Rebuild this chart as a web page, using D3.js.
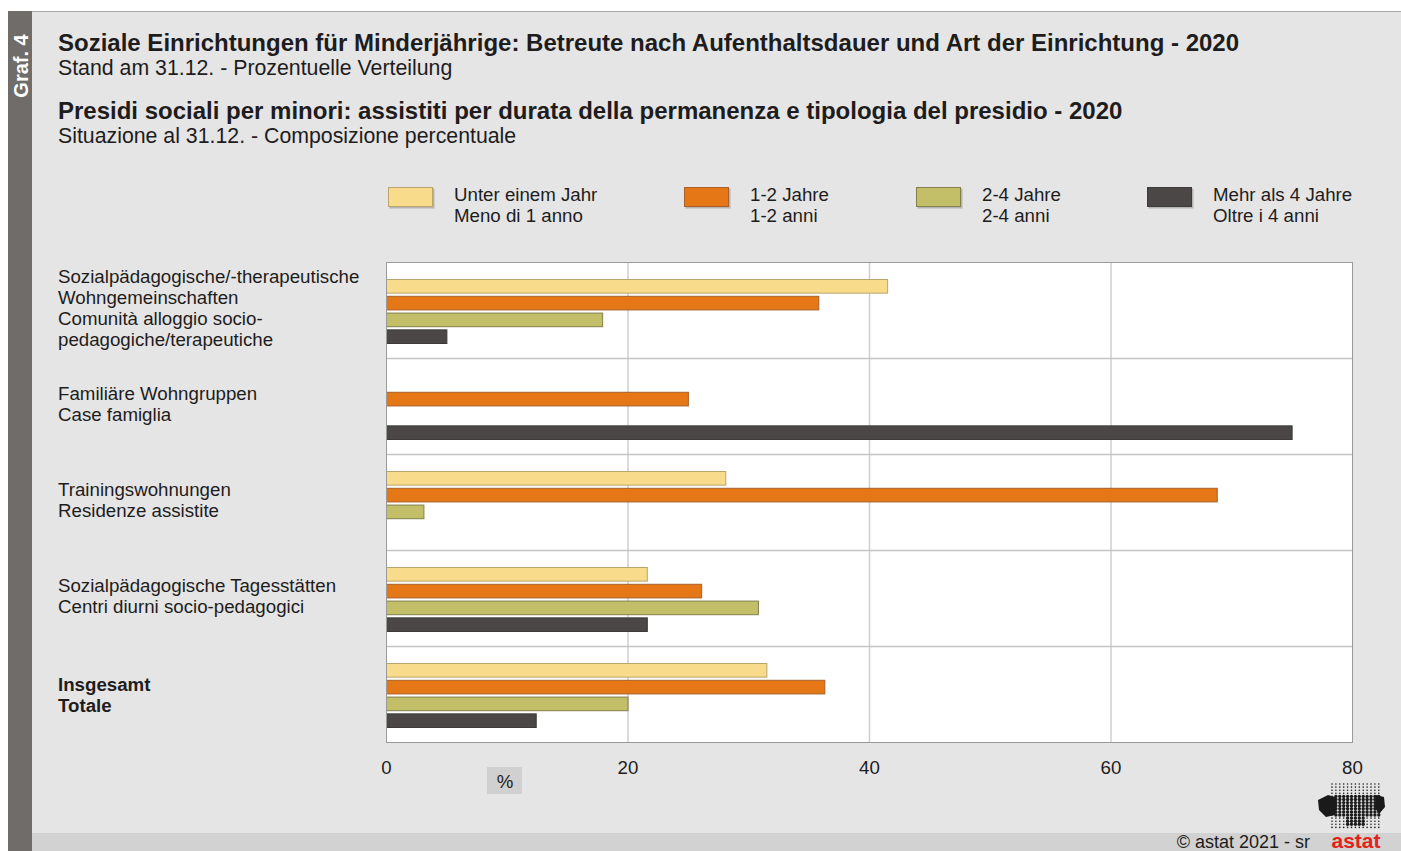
<!DOCTYPE html>
<html>
<head>
<meta charset="utf-8">
<script src="https://cdn.jsdelivr.net/npm/d3@7"></script>
<style>
  body { margin: 0; background: #fff; }
  svg { display: block; font-family: "Liberation Sans", Arial, sans-serif; }
</style>
</head>
<body>
<div id="chart"></div>
<script>
// categories, two lines each (DE / IT)
var categories = [
  ["Sozialpädagogische/-therapeutische", "Wohngemeinschaften", "Comunità alloggio socio-", "pedagogiche/terapeutiche"],
  ["Familiäre Wohngruppen", "Case famiglia"],
  ["Trainingswohnungen", "Residenze assistite"],
  ["Sozialpädagogische Tagesstätten", "Centri diurni socio-pedagogici"],
  ["Insgesamt", "Totale"]
];
var seriesNames = [
  ["Unter einem Jahr", "Meno di 1 anno"],
  ["1-2 Jahre", "1-2 anni"],
  ["2-4 Jahre", "2-4 anni"],
  ["Mehr als 4 Jahre", "Oltre i 4 anni"]
];
// percent values per series (null = no bar)
var underOneYear = [41.5, null, 28.1, 21.6, 31.5];
var oneToTwo     = [35.8, 25.0, 68.8, 26.1, 36.3];
var twoToFour    = [17.9, null, 3.1, 30.8, 20.0];
var overFour     = [5.0, 75.0, null, 21.6, 12.4];
var tickValues = [0, 20, 40, 60, 80];

var seriesValues = [underOneYear, oneToTwo, twoToFour, overFour];
var fills   = ["#f9dc8b", "#e57716", "#c3bf69", "#4b4747"];
var strokes = ["#b9a56c", "#a9602a", "#837f4c", "#3c3a3a"];

var W = 1401, H = 851;
var labelSize = 18.7;
var svg = d3.select("#chart").append("svg")
  .attr("width", W)
  .attr("height", H)

// background frame
svg.append("rect").attr("x", 0).attr("y", 0).attr("width", W).attr("height", H).attr("fill", "#fff")
svg.append("rect").attr("x", 8).attr("y", 11).attr("width", W - 8).attr("height", H - 11).attr("fill", "#e5e5e5")
svg.append("line").attr("x1", 8).attr("x2", W).attr("y1", 11.5).attr("y2", 11.5).attr("stroke", "#a8a8a8")
svg.append("rect").attr("x", 32).attr("y", 833).attr("width", W - 32).attr("height", H - 833).attr("fill", "#d2d2d2")
svg.append("rect").attr("x", 8).attr("y", 11).attr("width", 24).attr("height", H - 11).attr("fill", "#6f6c69")

svg.append("text")
  .attr("transform", "translate(28,66) rotate(-90)")
  .attr("text-anchor", "middle")
  .attr("fill", "#fff")
  .attr("font-weight", "bold")
  .attr("font-size", 20)
  .text("Graf. 4")

// titles
var titles = [
  {t: "Soziale Einrichtungen für Minderjährige: Betreute nach Aufenthaltsdauer und Art der Einrichtung - 2020", y: 51, b: true},
  {t: "Stand am 31.12. - Prozentuelle Verteilung", y: 75, b: false},
  {t: "Presidi sociali per minori: assistiti per durata della permanenza e tipologia del presidio - 2020", y: 119, b: true},
  {t: "Situazione al 31.12. - Composizione percentuale", y: 143, b: false}
]
svg.selectAll("text.title")
  .data(titles)
  .enter()
  .append("text")
  .attr("class", "title")
  .attr("x", 58)
  .attr("y", function (d) { return d.y })
  .attr("font-size", function (d) { return d.b ? 24 : 21.3 })
  .attr("font-weight", function (d) { return d.b ? "bold" : "normal" })
  .attr("fill", "#1e1c1c")
  .text(function (d) { return d.t })

// scales
var x = d3.scaleLinear().domain([0, 80]).range([386, 1352])
var y = d3.scaleBand().domain(d3.range(categories.length)).range([262, 742])
var yInner = d3.scaleBand().domain(d3.range(seriesNames.length)).range([17, 81]).paddingInner(3 / 16)

// plot area
svg.append("rect")
  .attr("x", x(0)).attr("y", y(0))
  .attr("width", x(80) - x(0)).attr("height", y.range()[1] - y.range()[0])
  .attr("fill", "#fff")

svg.selectAll("line.vgrid")
  .data(tickValues.slice(1, -1))
  .enter()
  .append("line")
  .attr("class", "vgrid")
  .attr("x1", function (d) { return x(d) + 0.5 })
  .attr("x2", function (d) { return x(d) + 0.5 })
  .attr("y1", y(0)).attr("y2", 742)
  .attr("stroke", "#cfcfcf")
  .attr("stroke-width", 1.5)

svg.selectAll("line.hgrid")
  .data(d3.range(1, categories.length))
  .enter()
  .append("line")
  .attr("class", "hgrid")
  .attr("x1", x(0)).attr("x2", x(80))
  .attr("y1", function (d) { return y(d) + 0.5 })
  .attr("y2", function (d) { return y(d) + 0.5 })
  .attr("stroke", "#c4c4c4")
  .attr("stroke-width", 1.5)

// bars
seriesValues.forEach(function (vals, s) {
  svg.selectAll("rect.bar" + s)
    .data(vals.map(function (v, i) { return {v: v, i: i} }).filter(function (d) { return d.v != null }))
    .enter()
    .append("rect")
    .attr("class", "bar" + s)
    .attr("x", x(0) + 0.5)
    .attr("y", function (d) { return y(d.i) + yInner(s) + 0.5 })
    .attr("width", function (d) { return x(d.v) - x(0) })
    .attr("height", yInner.bandwidth())
    .attr("fill", fills[s])
    .attr("stroke", strokes[s])
    .attr("stroke-width", 1)
})

svg.append("rect")
  .attr("x", x(0) + 0.5).attr("y", y(0) + 0.5)
  .attr("width", x(80) - x(0)).attr("height", y.range()[1] - y.range()[0])
  .attr("fill", "none")
  .attr("stroke", "#9a9a9a")
  .attr("stroke-width", 1)

// category labels
categories.forEach(function (lines, i) {
  var lh = 21
  var last = i == categories.length - 1
  var top = y(i) + y.bandwidth() / 2 - (lines.length * lh) / 2 + 15 + (last ? 3 : 0)
  var t = svg.append("text")
    .attr("x", 58)
    .attr("font-size", labelSize)
    .attr("fill", "#1e1c1c")
    .attr("font-weight", last ? "bold" : "normal")
  lines.forEach(function (l, k) {
    t.append("tspan").attr("x", 58).attr("y", top + k * lh).text(l)
  })
})

// x axis
var xAxis = svg.append("g")
  .attr("transform", "translate(0,742)")
  .call(d3.axisBottom(x).tickValues(tickValues).tickSize(0).tickPadding(19).tickFormat(d3.format("d")))
xAxis.select(".domain").remove()
xAxis.selectAll("text")
  .attr("font-size", labelSize)
  .attr("font-family", "Liberation Sans, Arial, sans-serif")
  .attr("fill", "#1e1c1c")

svg.append("rect").attr("x", 487).attr("y", 767).attr("width", 35).attr("height", 27).attr("fill", "#d0d0d0")
svg.append("text").attr("x", 505).attr("y", 788).attr("text-anchor", "middle")
  .attr("font-size", labelSize).attr("fill", "#1e1c1c").text("%")

// legend
var legendX = [388, 684, 916, 1147]
var lg = svg.selectAll("g.legend")
  .data(seriesNames)
  .enter()
  .append("g")
  .attr("class", "legend")
  .attr("transform", function (d, i) { return "translate(" + legendX[i] + ",187)" })
lg.append("rect")
  .attr("x", 1.5).attr("y", 1.5).attr("width", 45).attr("height", 20)
  .attr("fill", "#b5b5b5")
lg.append("rect")
  .attr("x", 0.5).attr("y", 0.5).attr("width", 44).attr("height", 19)
  .attr("fill", function (d, i) { return fills[i] })
  .attr("stroke", function (d, i) { return strokes[i] })
lg.append("text")
  .attr("x", 66).attr("y", 14)
  .attr("font-size", labelSize).attr("fill", "#1e1c1c")
  .text(function (d) { return d[0] })
lg.append("text")
  .attr("x", 66).attr("y", 35)
  .attr("font-size", labelSize).attr("fill", "#1e1c1c")
  .text(function (d) { return d[1] })

// footer
svg.append("text").attr("x", 1310).attr("y", 848).attr("text-anchor", "end")
  .attr("font-size", 18).attr("fill", "#1e1c1c").text("©  astat 2021 - sr")
svg.append("text").attr("x", 1356).attr("y", 848).attr("text-anchor", "middle")
  .attr("font-size", 21).attr("font-weight", "bold").attr("fill", "#e2231a").text("astat")

// logo: dotted grid with dark blob
var logo = svg.append("g").attr("transform", "translate(1332,784)")
for (var r = 0; r < 15; ++r) {
  for (var c = 0; c < 13; ++c) {
    var px = c * 3.9, py = r * 3.1
    var inBody = (r >= 4 && r <= 10 && c >= 1) || (r >= 11 && r <= 13 && c >= 4 && c <= 8)
    logo.append("circle")
      .attr("cx", px).attr("cy", py)
      .attr("r", inBody ? 1.7 : 0.8)
      .attr("fill", "#1a1a1a")
  }
}
logo.append("path")
  .attr("d", "M-14,16 L-4,11 L3,13 L5,19 L3,31 L-6,33 L-13,26 Z M44,11 L52,13 L53,23 L47,30 L43,24 Z")
  .attr("fill", "#1a1a1a")
</script>
</body>
</html>
